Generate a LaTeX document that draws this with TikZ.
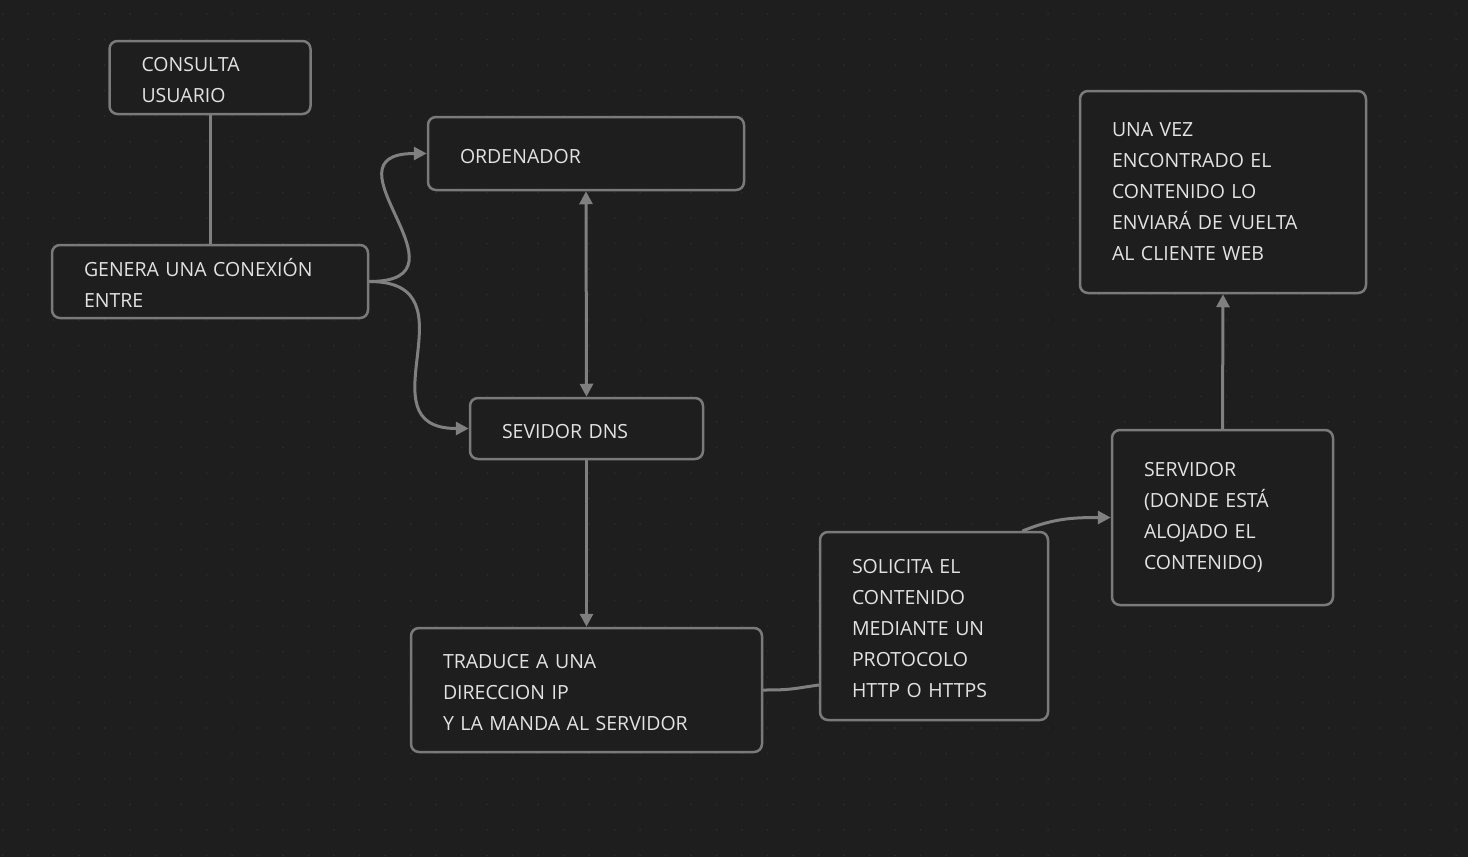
\documentclass[tikz,border=0pt]{standalone}
\usepackage{fontspec}
\setmainfont{Open Sans}
\usetikzlibrary{arrows.meta,backgrounds,calc}
\definecolor{canvas}{HTML}{1E1E1E}
\definecolor{griddot}{HTML}{2C2C2C}
\definecolor{frame}{HTML}{7A7A7A}
\definecolor{ink}{HTML}{E2E2E2}
\definecolor{edge}{HTML}{808080}
\tikzset{
  box/.style={
    draw=frame,
    fill=canvas,
    text=ink,
    line width=2.5pt,
    rounded corners=8pt,
    align=left,
    inner xsep=32pt,
    inner ysep=0pt,
    font=\fontsize{19.5}{31}\selectfont
  },
  lowered/.style={execute at begin node={\rule{0pt}{20pt}}},
  link/.style={
    draw=edge,
    line width=3pt,
    line cap=round
  },
  flow/.style={
    link,
    -{Triangle[length=13pt,width=13pt]}
  },
  twoway/.style={
    link,
    {Triangle[length=13pt,width=13pt]}-{Triangle[length=13pt,width=13pt]}
  }
}

\begin{document}
\begin{tikzpicture}[x=1pt,y=-1pt]
  \useasboundingbox (0,0) rectangle (1468,857);

  % Canvas cards, placed at their centres.
  \node[box,lowered,minimum width=201pt,minimum height=73pt,text width=137pt] (consulta) at (210,77.5)
    {CONSULTA\\USUARIO};

  \node[box,lowered,minimum width=316pt,minimum height=73pt,text width=252pt] (genera) at (210,281.5)
    {GENERA UNA CONEXIÓN\\ENTRE};

  \node[box,lowered,minimum width=316pt,minimum height=73pt,text width=252pt] (ordenador) at (586,153.5)
    {ORDENADOR};

  \node[box,lowered,minimum width=233pt,minimum height=61pt,text width=169pt] (dns) at (586.5,428.5)
    {SEVIDOR DNS};

  \node[box,lowered,minimum width=351pt,minimum height=124pt,text width=287pt] (traduce) at (586.5,690)
    {TRADUCE A UNA\\DIRECCION IP\\Y LA MANDA AL SERVIDOR};

  \node[box,lowered,minimum width=228pt,minimum height=188pt,text width=164pt] (solicita) at (934,626)
    {SOLICITA EL\\CONTENIDO\\MEDIANTE UN\\PROTOCOLO\\HTTP O HTTPS};

  \node[box,minimum width=221pt,minimum height=175pt,text width=157pt] (servidor) at (1222.5,517.5)
    {SERVIDOR\\(DONDE ESTÁ\\ALOJADO EL\\CONTENIDO)};

  \node[box,minimum width=286pt,minimum height=202pt,text width=222pt] (vuelta) at (1223,192)
    {UNA VEZ\\ENCONTRADO EL\\CONTENIDO LO\\ENVIARÁ DE VUELTA\\AL CLIENTE WEB};

  % Canvas, dot grid and edges sit behind the cards.
  \begin{scope}[on background layer]
    \fill[canvas] (0,0) rectangle (1468,857);
    \foreach \i in {0,...,57}
      \foreach \j in {0,...,33}
        \fill[griddot] (2.7+25.5*\i,14+25.5*\j) circle (1pt);

    \draw[link] (consulta.south) -- (genera.north);
    \draw[flow] (genera.east) .. controls +(110,0) and +(-110,0) .. (ordenador.west);
    \draw[flow] (genera.east) .. controls +(110,0) and +(-110,0) .. (dns.west);
    \draw[twoway] (ordenador.south) -- (dns.north);
    \draw[flow] (dns.south) -- (traduce.north);
    \draw[link] (traduce.east) .. controls +(28,0) and +(-28,4) .. ($(solicita.west)+(0,59)$);
    \draw[flow] ($(solicita.north)+(89,0)$) .. controls +(30,-12) and +(-40,0) .. (servidor.west);
    \draw[flow] (servidor.north) -- (vuelta.south);
  \end{scope}

\end{tikzpicture}
\end{document}
